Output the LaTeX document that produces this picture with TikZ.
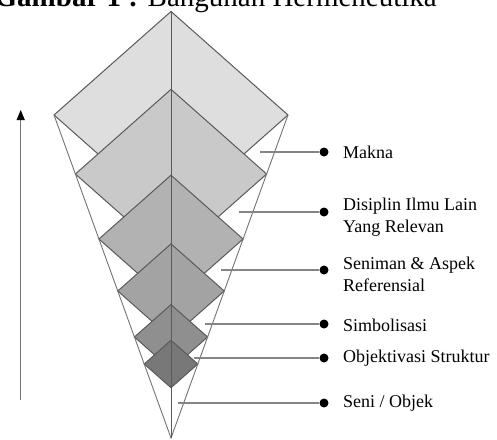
\documentclass[tikz,border=0pt]{standalone}
\usepackage{fontspec}
\setmainfont{Liberation Serif}
\usetikzlibrary{arrows.meta}
\definecolor{edgegray}{HTML}{5A5A5A}
\definecolor{leadgray}{HTML}{858585}
\tikzset{
  layer edge/.style={draw=edgegray,line width=1pt,line join=miter},
  cone line/.style={draw=edgegray!85,line width=0.9pt},
  lead line/.style={draw=leadgray,line width=1.3pt},
  lead dot/.style={circle,fill=black,minimum size=9pt,inner sep=0pt},
  lead text/.style={anchor=west,align=left,inner sep=0pt,font=\fontsize{18}{22}\selectfont},
}
% one diamond layer, corners on the cone: #1 corner y, #2 shade, #3 name
\newcommand{\hermlayer}[3]{%
  \pgfmathsetmacro{\layerhw}{0.3622*(438-#1)}
  \pgfmathsetmacro{\layerhh}{0.885*\layerhw}
  \filldraw[layer edge,fill=black!#2]
    (171,#1-\layerhh) coordinate (#3-t) -- (171+\layerhw,#1) coordinate (#3-r)
    -- (171,#1+\layerhh) coordinate (#3-b) -- (171-\layerhw,#1) coordinate (#3-l) -- cycle;
}

\begin{document}
\begin{tikzpicture}[x=1pt,y=-1pt]
  \useasboundingbox (0,0) rectangle (497,439);
  \clip (0,0) rectangle (497,439);
  % title, only its lower half is on the page
  \node[anchor=base east,inner sep=0pt,font=\fontsize{29}{34}\selectfont] (title) at (437,6)
    {\textbf{Gambar 1 :} Bangunan Hermeneutika};
  % layers, big to small
  \coordinate (apex) at (171,438);
  \foreach \cy/\sh/\n in {115/13/L1, 174/21/L2, 239/30/L3, 291/36/L4, 337/44/L5, 364/53/L6}
    {\hermlayer{\cy}{\sh}{\n}}
  \draw[cone line] (L1-l) -- (apex) -- (L1-r);
  \draw[layer edge] (L1-t) -- (apex);
  % arrow on the left
  \coordinate (arrtail) at (20.7,400);
  \coordinate (arrhead) at (20.7,110);
  \draw[draw=edgegray!85,line width=1.2pt,-{Triangle[length=10pt,width=8pt,color=black]}] (arrtail) -- (arrhead);
  % labels
  \foreach \x/\y/\ty/\n/\txt in {260/152/152/makna/Makna,
      239/212/217/disiplin/{Disiplin Ilmu Lain\\Yang Relevan},
      221/270/274/seniman/{Seniman \& Aspek\\Referensial},
      205/324/325/simbol/Simbolisasi,
      194/358/358/objektiv/Objektivasi Struktur,
      178/403/403/seni/{Seni / Objek}} {
    \coordinate (\n-in) at (\x,\y);
    \node[lead dot] (\n-dot) at (324,\y) {};
    \node[lead text] (\n) at (343,\ty) {\txt};
    \draw[lead line] (\n-in) -- (\n-dot);
  }
\end{tikzpicture}
\end{document}
